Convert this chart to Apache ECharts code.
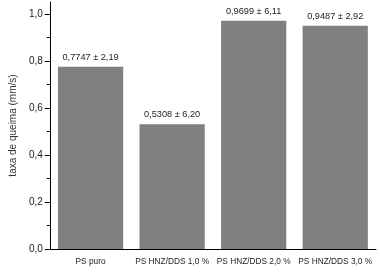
<!DOCTYPE html>
<html><head><meta charset="utf-8">
<script src="https://cdn.jsdelivr.net/npm/echarts@6/dist/echarts.min.js"></script>
<style>html,body{margin:0;padding:0;background:#fff}#c{width:380px;height:273px}</style>
</head><body><div id="c"></div>
<script>
var categories = ['PS puro', 'PS HNZ/DDS 1,0 %', 'PS HNZ/DDS 2,0 %', 'PS HNZ/DDS 3,0 %'];
var values = [0.7747, 0.5308, 0.9699, 0.9487];
var barLabels = ['0,7747 \u00b1 2,19', '0,5308 \u00b1 6,20', '0,9699 \u00b1 6,11', '0,9487 \u00b1 2,92'];
var yTicks = [0, 0.2, 0.4, 0.6, 0.8, 1.0];
var yMinorTicks = [0.1, 0.3, 0.5, 0.7, 0.9];
var yTitle = 'taxa de queima (mm/s)';

var font = 'Liberation Sans, Arial, sans-serif';
var chart = echarts.init(document.getElementById('c'), null, {renderer: 'canvas'});
chart.setOption({
  animation: false,
  grid: {left: 45, right: 4, top: 2, bottom: 24},
  xAxis: [{
    type: 'category', data: categories,
    axisLine: {lineStyle: {color: '#000', width: 1}},
    axisTick: {alignWithLabel: true, length: 4, lineStyle: {color: '#000'}},
    axisLabel: {color: '#222', fontSize: 8.3, fontFamily: font, margin: 9, interval: 0}
  }, {
    type: 'category', data: categories, position: 'bottom',
    axisLine: {show: false},
    axisTick: {alignWithLabel: false, length: 2, lineStyle: {color: '#000'}},
    axisLabel: {show: false}
  }],
  yAxis: [{
    type: 'value', min: 0, max: 1.05, interval: 0.1,
    name: yTitle, nameLocation: 'middle', nameGap: 30,
    nameTextStyle: {color: '#333', fontSize: 10, fontFamily: font},
    axisLine: {show: true, lineStyle: {color: '#000'}},
    axisTick: {show: true, length: 5, customValues: yTicks, lineStyle: {color: '#000'}},
    axisLabel: {color: '#222', fontSize: 10, fontFamily: font, margin: 7, customValues: yTicks,
      formatter: function (v) { return v.toFixed(1).replace('.', ','); }},
    splitLine: {show: false}
  }, {
    type: 'value', min: 0, max: 1.05, interval: 0.1, position: 'left',
    axisLine: {show: false},
    axisTick: {show: true, length: 3, customValues: yMinorTicks, lineStyle: {color: '#000'}},
    axisLabel: {show: false},
    splitLine: {show: false}
  }],
  series: [{
    type: 'bar', data: values, barWidth: '80%',
    itemStyle: {color: '#808080'},
    label: {show: true, position: 'top', distance: 5, color: '#222', fontSize: 9.2, fontFamily: font,
      formatter: function (p) { return barLabels[p.dataIndex]; }}
  }]
});
</script></body></html>
